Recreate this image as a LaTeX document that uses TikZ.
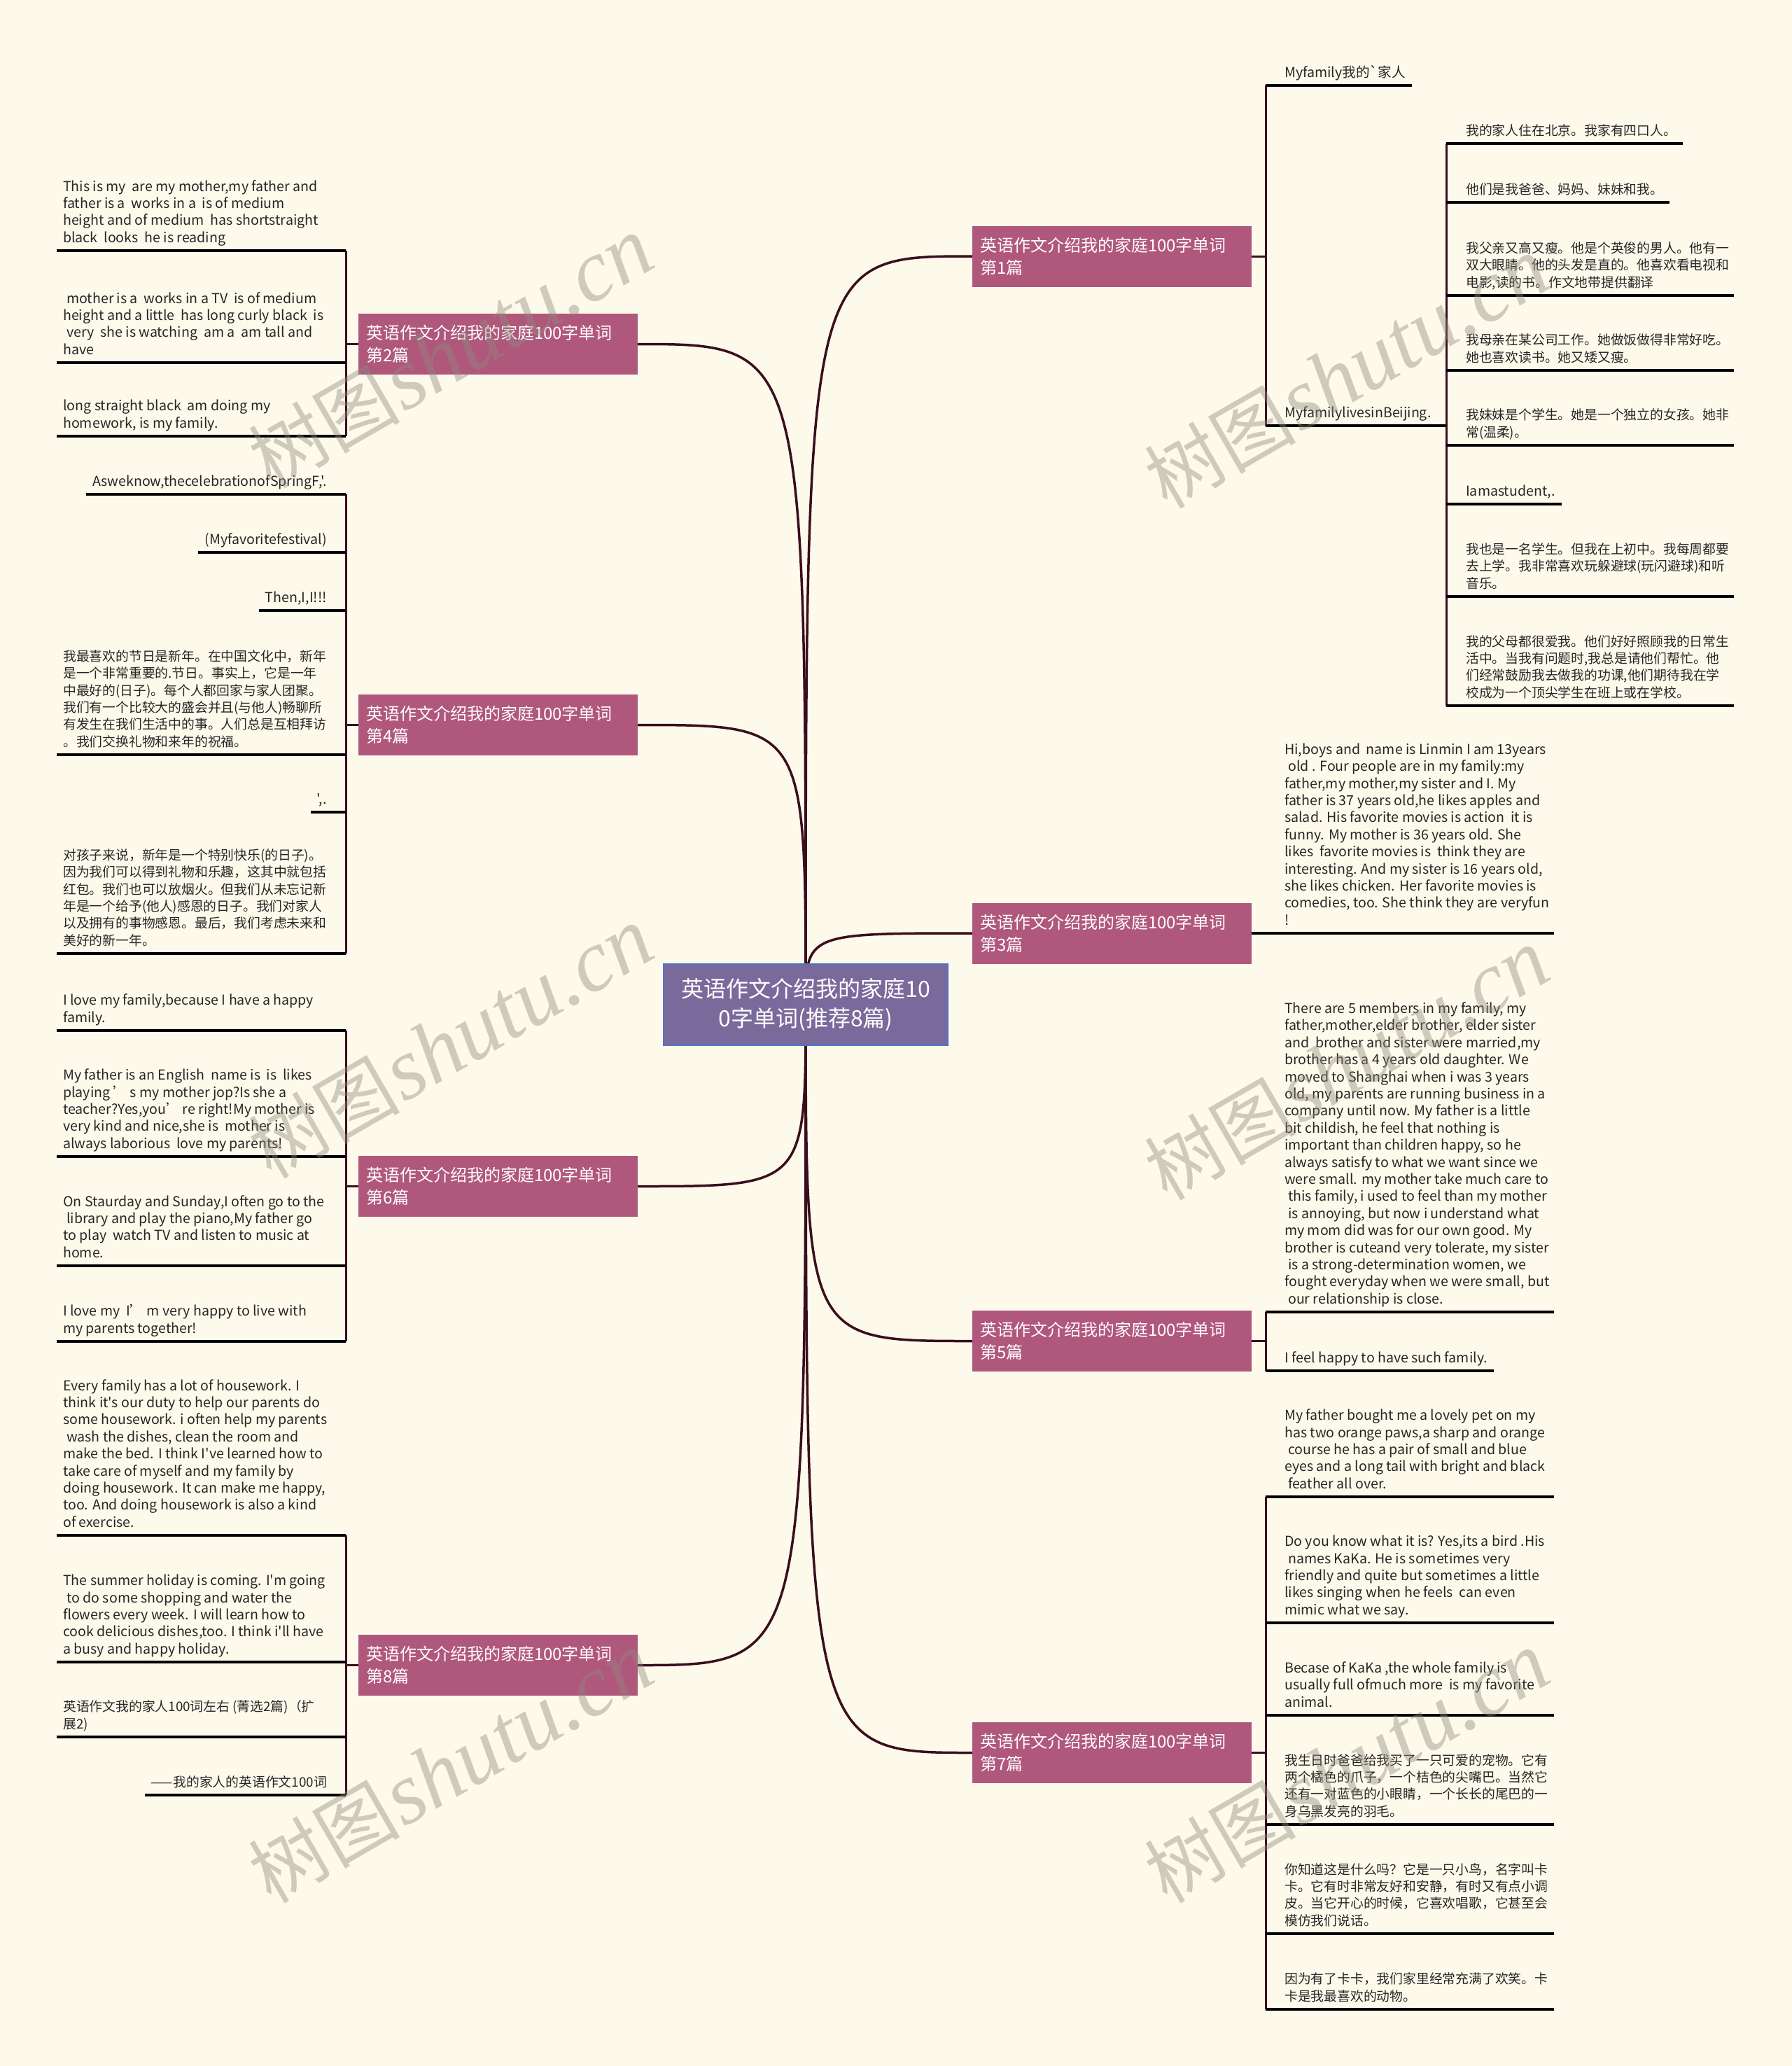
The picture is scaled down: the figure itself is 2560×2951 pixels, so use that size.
\documentclass[tikz,border=0pt]{standalone}
\usepackage{fontspec}
\newfontfamily\cjk{Noto Sans CJK SC}
\newfontfamily\wml{Liberation Serif}
\pgfdeclarelayer{bgfill}
\pgfdeclarelayer{curves}
\pgfsetlayers{bgfill,curves,main}
\definecolor{bgc}{HTML}{FDFAEB}
\definecolor{pinkb}{HTML}{B0577C}
\definecolor{rootf}{HTML}{7A6A9C}
\definecolor{rootd}{HTML}{4E74C2}
\definecolor{wine}{HTML}{3A0E1E}
\definecolor{txt}{HTML}{262626}
\definecolor{wmc}{HTML}{8F8B7D}
\newcommand\myls{\hspace*{5pt}}
\begin{document}
\begin{tikzpicture}[x=1pt,y=-1pt,
  leaf/.style={font=\cjk\fontsize{18.8}{24.4}\selectfont, text=txt, inner xsep=0pt, inner ysep=5.5pt, align=left, execute at end node={\rule[-6pt]{0pt}{6pt}}},
  leafen/.style={leaf, font=\cjk\fontsize{19.6}{24.4}\selectfont},
  leafr/.style={leaf, align=right},
  leafenr/.style={leafen, align=right},
  branchbox/.style={fill=pinkb, text=white, font=\cjk\fontsize{24}{32}\selectfont, minimum width=399pt, minimum height=87pt, text width=377pt, align=left, inner xsep=11pt, inner ysep=0pt},
  rootbox/.style={fill=rootf, draw=rootd, line width=2.5pt, text=white, font=\cjk\fontsize{32}{42}\selectfont, minimum width=406pt, minimum height=116pt, align=center},
  uline/.style={draw=black, line width=3.5pt},
  conn/.style={draw=wine, line width=3pt},
  curvel/.style={draw=wine, line width=3.5pt},
  wm/.style={text=wmc, opacity=0.42, rotate=30, inner sep=0pt}
]
\begin{pgfonlayer}{bgfill}
\fill[bgc] (0,0) rectangle (2560,2951);
\end{pgfonlayer}
\useasboundingbox (0,0) rectangle (2560,2951);

% fixed x positions
\coordinate (vL) at (494,0);
\coordinate (eL) at (81,0);
\coordinate (vR) at (1808,0);
\coordinate (eR) at (2220,0);
\coordinate (vS) at (2066,0);
\coordinate (eS) at (2477,0);

% root and branches
\node[rootbox] (root) at (1151,1435) {英语作文介绍我的家庭10\\0字单词(推荐8篇)};
\node[branchbox] (b1) at (1588.5,366) {英语作文介绍我的家庭100字单词\\第1篇};
\node[branchbox] (b3) at (1588.5,1333) {英语作文介绍我的家庭100字单词\\第3篇};
\node[branchbox] (b5) at (1588.5,1915.5) {英语作文介绍我的家庭100字单词\\第5篇};
\node[branchbox] (b7) at (1588.5,2503.5) {英语作文介绍我的家庭100字单词\\第7篇};
\node[branchbox] (b2) at (711.5,491.5) {英语作文介绍我的家庭100字单词\\第2篇};
\node[branchbox] (b4) at (711.5,1035.5) {英语作文介绍我的家庭100字单词\\第4篇};
\node[branchbox] (b6) at (711.5,1694.5) {英语作文介绍我的家庭100字单词\\第6篇};
\node[branchbox] (b8) at (711.5,2378.5) {英语作文介绍我的家庭100字单词\\第8篇};

\begin{pgfonlayer}{curves}
\foreach \b in {b1,b3,b5,b7} \draw[curvel] (root.center) .. controls (root.center |- \b.west) .. (\b.west);
\foreach \b in {b2,b4,b6,b8} \draw[curvel] (root.center) .. controls (root.center |- \b.east) .. (\b.east);
\end{pgfonlayer}

% ---------- branch 2 ----------
\node[leafen, anchor=south west] (l2a) at (90,358) {This is my \ are my mother,my father and\\father is a \ works in a \ is of medium\\height and of medium \ has shortstraight\\black \ looks \ he is reading};
\node[leafen, anchor=south west] (l2b) at (90,518) {\myls mother is a \ works in a TV \ is of medium\\height and a little \ has long curly black \ is\\\myls very \ she is watching \ am a \ am tall and\\have};
\node[leafen, anchor=south west] (l2c) at (90,623) {long straight black \ am doing my\\homework, is my family.};
\draw[conn] (b2.west) -- (b2.west -| vL);
\draw[conn] (l2a.south -| vL) -- (l2c.south -| vL);
\foreach \n in {l2a,l2b,l2c} \draw[uline] (\n.south -| eL) -- (\n.south -| vL);

% ---------- branch 4 ----------
\node[leafenr, anchor=south east] (l4a) at (467,706) {Asweknow,thecelebrationofSpringF,'.};
\node[leafenr, anchor=south east] (l4b) at (467,789) {(Myfavoritefestival)};
\node[leafenr, anchor=south east] (l4c) at (467,872) {Then,I,I!!!};
\node[leaf, anchor=south west] (l4d) at (90,1078) {我最喜欢的节日是新年。在中国文化中，新年\\是一个非常重要的.节日。事实上，它是一年\\中最好的(日子)。每个人都回家与家人团聚。\\我们有一个比较大的盛会并且(与他人)畅聊所\\有发生在我们生活中的事。人们总是互相拜访\\。我们交换礼物和来年的祝福。};
\node[leafenr, anchor=south east] (l4e) at (467,1160) {',.};
\node[leaf, anchor=south west] (l4f) at (90,1362) {对孩子来说，新年是一个特别快乐(的日子)。\\因为我们可以得到礼物和乐趣，这其中就包括\\红包。我们也可以放烟火。但我们从未忘记新\\年是一个给予(他人)感恩的日子。我们对家人\\以及拥有的事物感恩。最后，我们考虑未来和\\美好的新一年。};
\draw[conn] (b4.west) -- (b4.west -| vL);
\draw[conn] (l4a.south -| vL) -- (l4f.south -| vL);
\foreach \n in {l4a,l4b,l4c,l4e} \draw[uline] ([xshift=-9pt]\n.south west) -- (\n.south -| vL);
\foreach \n in {l4d,l4f} \draw[uline] (\n.south -| eL) -- (\n.south -| vL);

% ---------- branch 6 ----------
\node[leafen, anchor=south west] (l6a) at (90,1472) {I love my family,because I have a happy\\family.};
\node[leafen, anchor=south west] (l6b) at (90,1652) {My father is an English \ name is \ is \ likes\\playing ’ s my mother jop?Is she a\\teacher?Yes,you’ re right!My mother is\\very kind and nice,she is \ mother is\\always laborious \ love my parents!};
\node[leafen, anchor=south west] (l6c) at (90,1808) {On Staurday and Sunday,I often go to the\\\myls library and play the piano,My father go\\to play \ watch TV and listen to music at\\home.};
\node[leafen, anchor=south west] (l6d) at (90,1916) {I love my \ I’ m very happy to live with\\my parents together!};
\draw[conn] (b6.west) -- (b6.west -| vL);
\draw[conn] (l6a.south -| vL) -- (l6d.south -| vL);
\foreach \n in {l6a,l6b,l6c,l6d} \draw[uline] (\n.south -| eL) -- (\n.south -| vL);

% ---------- branch 8 ----------
\node[leafen, anchor=south west] (l8a) at (90,2193) {Every family has a lot of housework. I\\think it's our duty to help our parents do\\some housework. i often help my parents\\\myls wash the dishes, clean the room and\\make the bed. I think I've learned how to\\take care of myself and my family by\\doing housework. It can make me happy,\\too. And doing housework is also a kind\\of exercise.};
\node[leafen, anchor=south west] (l8b) at (90,2374) {The summer holiday is coming. I'm going\\\myls to do some shopping and water the\\flowers every week. I will learn how to\\cook delicious dishes,too. I think i'll have\\a busy and happy holiday.};
\node[leaf, anchor=south west] (l8c) at (90,2481) {英语作文我的家人100词左右 (菁选2篇)（扩\\展2)};
\node[leafr, anchor=south east] (l8d) at (467,2564) {——我的家人的英语作文100词};
\draw[conn] (b8.west) -- (b8.west -| vL);
\draw[conn] (l8a.south -| vL) -- (l8d.south -| vL);
\foreach \n in {l8a,l8b,l8c} \draw[uline] (\n.south -| eL) -- (\n.south -| vL);
\draw[uline] ([xshift=-9pt]l8d.south west) -- (l8d.south -| vL);

% ---------- branch 1 ----------
\node[leafen, anchor=south west] (r1a) at (1835,122) {Myfamily我的`家人};
\node[leafen, anchor=south west] (r1b) at (1835,608) {MyfamilylivesinBeijing.};
\draw[conn] (b1.east) -- (b1.east -| vR);
\draw[conn] (r1a.south -| vR) -- (r1b.south -| vR);
\draw[uline] (r1a.south -| vR) -- ([xshift=9pt]r1a.south east);
\draw[uline] (r1b.south -| vR) -- (r1b.south -| vS);

\node[leaf, anchor=south west] (s1) at (2094,205) {我的家人住在北京。我家有四口人。};
\node[leaf, anchor=south west] (s2) at (2094,289) {他们是我爸爸、妈妈、妹妹和我。};
\node[leaf, anchor=south west] (s3) at (2094,422) {我父亲又高又瘦。他是个英俊的男人。他有一\\双大眼睛。他的头发是直的。他喜欢看电视和\\电影,读的书。作文地带提供翻译};
\node[leaf, anchor=south west] (s4) at (2094,529) {我母亲在某公司工作。她做饭做得非常好吃。\\她也喜欢读书。她又矮又瘦。};
\node[leaf, anchor=south west] (s5) at (2094,636) {我妹妹是个学生。她是一个独立的女孩。她非\\常(温柔)。};
\node[leafen, anchor=south west] (s6) at (2094,720) {Iamastudent,.};
\node[leaf, anchor=south west] (s7) at (2094,852) {我也是一名学生。但我在上初中。我每周都要\\去上学。我非常喜欢玩躲避球(玩闪避球)和听\\音乐。};
\node[leaf, anchor=south west] (s8) at (2094,1008) {我的父母都很爱我。他们好好照顾我的日常生\\活中。当我有问题时,我总是请他们帮忙。他\\们经常鼓励我去做我的功课,他们期待我在学\\校成为一个顶尖学生在班上或在学校。};
\draw[conn] (s1.south -| vS) -- (s8.south -| vS);
\foreach \n in {s1,s2,s6} \draw[uline] (\n.south -| vS) -- ([xshift=9pt]\n.south east);
\foreach \n in {s3,s4,s5,s7,s8} \draw[uline] (\n.south -| vS) -- (\n.south -| eS);

% ---------- branch 3 ----------
\node[leafen, anchor=south west] (r3a) at (1835,1333) {Hi,boys and \ name is Linmin I am 13years\\\myls old . Four people are in my family:my\\father,my mother,my sister and I. My\\father is 37 years old,he likes apples and\\salad. His favorite movies is action \ it is\\funny. My mother is 36 years old. She\\likes \ favorite movies is \ think they are\\interesting. And my sister is 16 years old,\\she likes chicken. Her favorite movies is\\comedies, too. She think they are veryfun\\!};
\draw[uline] (b3.east) -- (b3.east -| eR);

% ---------- branch 5 ----------
\node[leafen, anchor=south west] (r5a) at (1835,1874) {There are 5 members in my family, my\\father,mother,elder brother, elder sister\\and \ brother and sister were married,my\\brother has a 4 years old daughter. We\\moved to Shanghai when i was 3 years\\old, my parents are running business in a\\company until now. My father is a little\\bit childish, he feel that nothing is\\important than children happy, so he\\always satisfy to what we want since we\\were small. my mother take much care to\\\myls this family, i used to feel than my mother\\\myls is annoying, but now i understand what\\my mom did was for our own good. My\\brother is cuteand very tolerate, my sister\\\myls is a strong-determination women, we\\fought everyday when we were small, but\\\myls our relationship is close.};
\node[leafen, anchor=south west] (r5b) at (1835,1958) {I feel happy to have such family.};
\draw[conn] (b5.east) -- (b5.east -| vR);
\draw[conn] (r5a.south -| vR) -- (r5b.south -| vR);
\draw[uline] (r5a.south -| vR) -- (r5a.south -| eR);
\draw[uline] (r5b.south -| vR) -- ([xshift=9pt]r5b.south east);

% ---------- branch 7 ----------
\node[leafen, anchor=south west] (r7a) at (1835,2138) {My father bought me a lovely pet on my\\has two orange paws,a sharp and orange\\\myls course he has a pair of small and blue\\eyes and a long tail with bright and black\\\myls feather all over.};
\node[leafen, anchor=south west] (r7b) at (1835,2318) {Do you know what it is? Yes,its a bird .His\\\myls names KaKa. He is sometimes very\\friendly and quite but sometimes a little\\likes singing when he feels \ can even\\mimic what we say.};
\node[leafen, anchor=south west] (r7c) at (1835,2450) {Becase of KaKa ,the whole family is\\usually full ofmuch more \ is my favorite\\animal.};
\node[leaf, anchor=south west] (r7d) at (1835,2606) {我生日时爸爸给我买了一只可爱的宠物。它有\\两个橘色的爪子，一个桔色的尖嘴巴。当然它\\还有一对蓝色的小眼睛，一个长长的尾巴的一\\身乌黑发亮的羽毛。};
\node[leaf, anchor=south west] (r7e) at (1835,2762) {你知道这是什么吗？它是一只小鸟，名字叫卡\\卡。它有时非常友好和安静，有时又有点小调\\皮。当它开心的时候，它喜欢唱歌，它甚至会\\模仿我们说话。};
\node[leaf, anchor=south west] (r7f) at (1835,2870) {因为有了卡卡，我们家里经常充满了欢笑。卡\\卡是我最喜欢的动物。};
\draw[conn] (b7.east) -- (b7.east -| vR);
\draw[conn] (r7a.south -| vR) -- (r7f.south -| vR);
\foreach \n in {r7a,r7b,r7c,r7d,r7e,r7f} \draw[uline] (\n.south -| vR) -- (\n.south -| eR);

% ---------- watermarks ----------
\foreach \p [count=\i] in {(644,504),(1924,533),(644,1490),(1924,1521),(644,2525),(1924,2525)}
  \node[wm] (wm\i) at \p {{\cjk\fontsize{108}{108}\selectfont 树图} {\wml\itshape\fontsize{125}{125}\selectfont shutu.cn}};
\end{tikzpicture}
\end{document}
